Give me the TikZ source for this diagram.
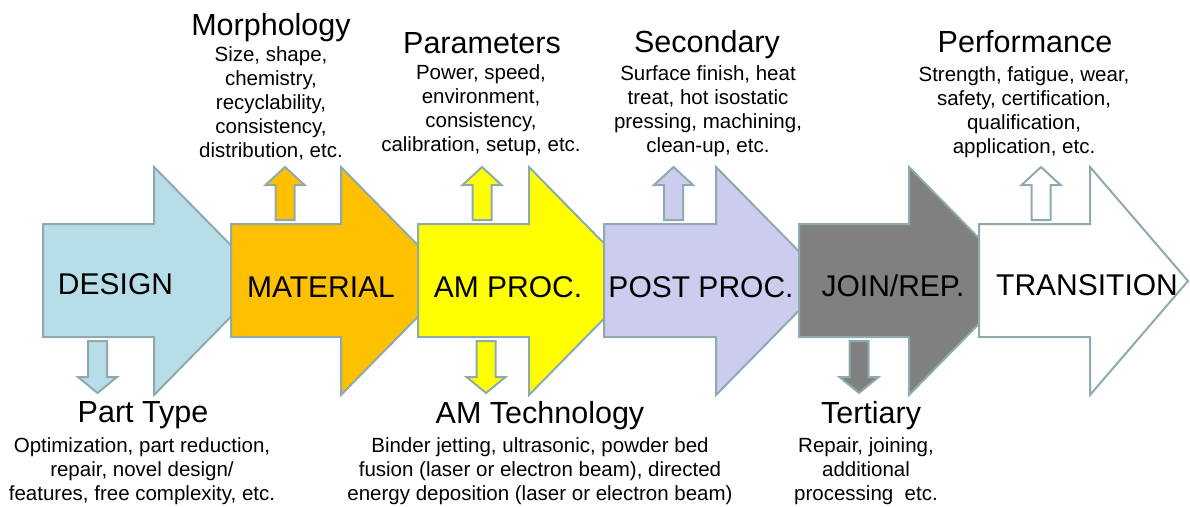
\documentclass[tikz,border=0pt]{standalone}
\usepackage{fontspec}
\setmainfont{Liberation Sans}
\definecolor{edgecol}{HTML}{8FAAAE}
\definecolor{designcol}{HTML}{B7DEE8}
\definecolor{materialcol}{HTML}{FFC000}
\definecolor{amcol}{HTML}{FFFF00}
\definecolor{postcol}{HTML}{CCCCEE}
\definecolor{joincol}{HTML}{808080}
\newcommand\stagearrow[4]{% x0, head base, tip, fill
  \filldraw[shapeline, fill=#4] (#1,224) -- (#2,224) -- (#2,167) -- (#3,281)
    -- (#2,395) -- (#2,337) -- (#1,337) -- cycle;}
\newcommand\uparrowshape[2]{% centre x, fill
  \filldraw[shapeline, fill=#2] (#1-9.5,220) -- (#1-9.5,185) -- (#1-19.5,185)
    -- (#1,167) -- (#1+19.5,185) -- (#1+9.5,185) -- (#1+9.5,220) -- cycle;}
\newcommand\downarrowshape[2]{% centre x, fill
  \filldraw[shapeline, fill=#2] (#1-9.5,341) -- (#1-9.5,377) -- (#1-19.5,377)
    -- (#1,393) -- (#1+19.5,377) -- (#1+9.5,377) -- (#1+9.5,341) -- cycle;}
\begin{document}
\begin{tikzpicture}[x=1pt,y=-1pt,
  shapeline/.style={draw=edgecol, line width=2pt, line join=miter},
  stage/.style={anchor=base, inner sep=0pt, font=\fontsize{30}{36}\selectfont},
  titletext/.style={anchor=base, inner sep=0pt, font=\fontsize{30.5}{36}\selectfont},
  bodytext/.style={anchor=base, inner sep=0pt, align=center, font=\fontsize{20.5}{24}\selectfont}]
\useasboundingbox (0,0) rectangle (1190,506);
\clip (0,0) rectangle (1190,506);
\fill[white] (0,0) rectangle (1190,506);

% big stage arrows
\stagearrow{43}{154}{266}{designcol}
\stagearrow{231}{341}{453}{materialcol}
\stagearrow{418}{529}{641}{amcol}
\stagearrow{604}{716}{828}{postcol}
\stagearrow{799}{909}{1021}{joincol}
\stagearrow{979}{1090}{1188}{white}

% small arrows
\downarrowshape{97.5}{designcol}
\uparrowshape{285}{materialcol}
\uparrowshape{482}{amcol}
\downarrowshape{486}{amcol}
\uparrowshape{673.5}{postcol}
\downarrowshape{859}{joincol}
\uparrowshape{1041}{white}

% stage labels
\node[stage] (design) at (115.5,294) {DESIGN};
\node[stage] (material) at (321,297) {MATERIAL};
\node[stage] (amproc) at (508,297) {AM PROC.};
\node[stage] (postproc) at (701,297) {POST PROC.};
\node[stage] (joinrep) at (893,296) {JOIN/REP.};
\node[stage] (transition) at (1087,295) {TRANSITION};

% top texts
\node[titletext] (morphT) at (271,35) {Morphology};
\node[bodytext] (morphB) at (271,157) {Size, shape,\\chemistry,\\recyclability,\\consistency,\\distribution, etc.};
\node[titletext] (paramT) at (482,53) {Parameters};
\node[bodytext] (paramB) at (481,151) {Power, speed,\\environment,\\consistency,\\calibration, setup, etc.};
\node[titletext] (secT) at (707,52) {Secondary};
\node[bodytext] (secB) at (708,152) {Surface finish, heat\\treat, hot isostatic\\pressing, machining,\\clean-up, etc.};
\node[titletext] (perfT) at (1025,52) {Performance};
\node[bodytext] (perfB) at (1024,153) {Strength, fatigue, wear,\\safety, certification,\\qualification,\\application, etc.};

% bottom texts
\node[titletext] (partT) at (143,422) {Part Type};
\node[bodytext] (partB) at (142,500) {Optimization, part reduction,\\repair, novel design/\\features, free complexity, etc.};
\node[titletext] (techT) at (540,423) {AM Technology};
\node[bodytext] (techB) at (540,500) {Binder jetting, ultrasonic, powder bed\\fusion (laser or electron beam), directed\\energy deposition (laser or electron beam)};
\node[titletext] (terT) at (871,423) {Tertiary};
\node[bodytext] (terB) at (866,500) {Repair, joining,\\additional\\processing\ \ etc.};
\end{tikzpicture}
\end{document}
